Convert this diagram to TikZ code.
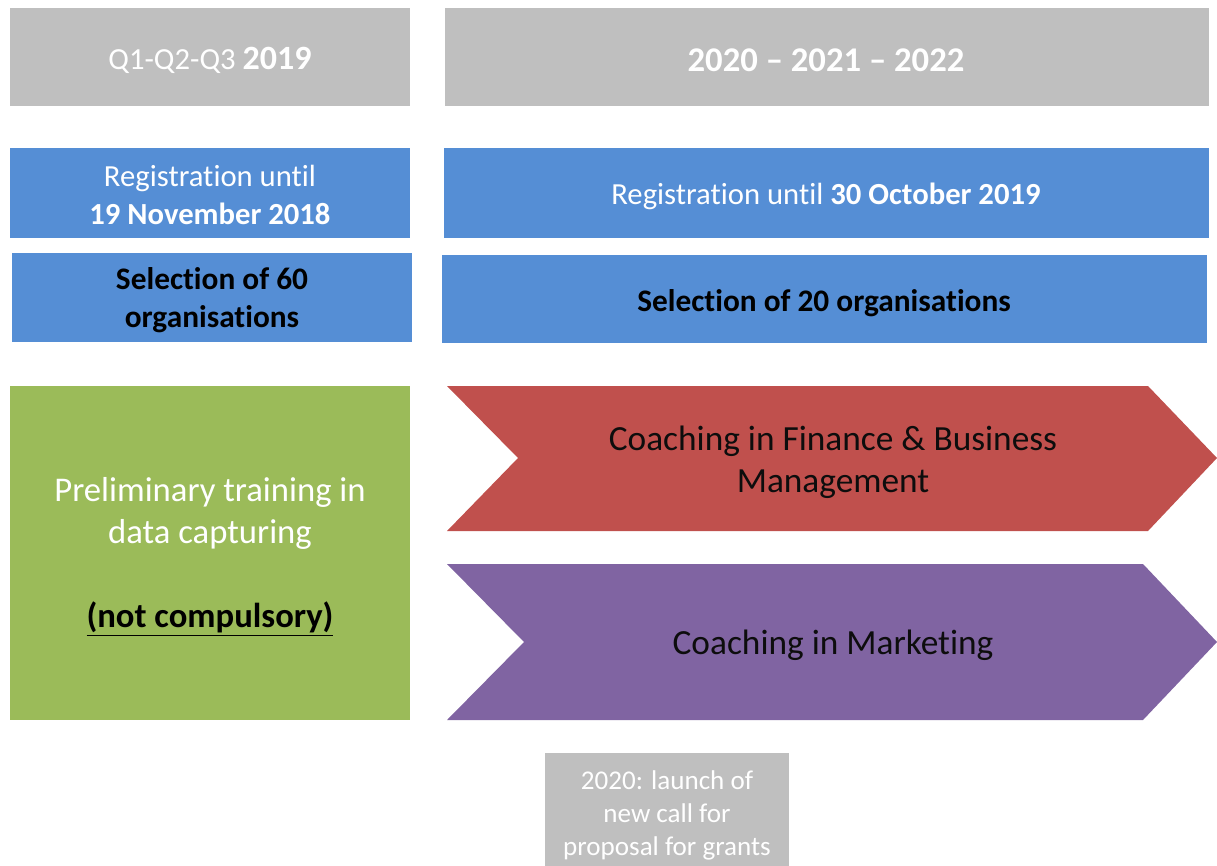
\documentclass[tikz,border=0pt]{standalone}
\usepackage{fontspec}
\setmainfont{Carlito}[Ligatures=NoCommon]
\usetikzlibrary{positioning}
\definecolor{hdgrey}{HTML}{BFBFBF}
\definecolor{regblue}{HTML}{558ED5}
\definecolor{trgreen}{HTML}{9BBB59}
\definecolor{finred}{HTML}{C0504D}
\definecolor{mktpurple}{HTML}{8064A2}

\begin{document}
\begin{tikzpicture}[x=0.75pt, y=-0.75pt, align=center, inner sep=0pt]
        \tikzstyle{head}=[text=white, font=\fontsize{23}{28}\selectfont]
        \tikzstyle{reg}=[text=white, font=\fontsize{23}{28}\selectfont]
        \tikzstyle{sel}=[text=black, font=\fontsize{23.5}{28}\selectfont\bfseries]
        \tikzstyle{coach}=[text=black!95, font=\fontsize{26.5}{31.5}\selectfont]
        \useasboundingbox (0,0) rectangle (1217,866);
        % header row
        \fill[hdgrey] (10,8) rectangle (410,106);
        \fill[hdgrey] (445,8) rectangle (1209,106);
        \node[head] (hdA) at (210,60) {Q1-Q2-Q3 {\bfseries\fontsize{25.5}{28}\selectfont 2019}};
        \node[head, font=\fontsize{26}{30}\selectfont\bfseries] (hdB) at (826,60) {2020 -- 2021 -- 2022};
        % registration and selection
        \fill[regblue] (10,148) rectangle (410,238);
        \fill[regblue] (444,148) rectangle (1209,238);
        \fill[regblue] (12,253) rectangle (412,342);
        \fill[regblue] (442,255) rectangle (1207,343);
        \node[reg] (regA) at (210,195) {Registration until\\ \textbf{19 November 2018}};
        \node[reg] (regB) at (826,196) {Registration until \textbf{30 October 2019}};
        \node[sel] (selA) at (212,300) {Selection of 60\\ organisations};
        \node[sel] (selB) at (824,303) {Selection of 20 organisations};
        % training and coaching
        \fill[trgreen] (10,386) rectangle (410,720);
        \node[text=white, font=\fontsize{26}{31.5}\selectfont] (train) at (210,557)
          {Preliminary training in\\ data capturing\\[31.5pt] \textcolor{black}{\bfseries\underline{(not compulsory)}}};
        \fill[finred] (447,386) -- (1148,386) -- (1217,458) -- (1148,531) -- (447,531) -- (518,458) -- cycle;
        \fill[mktpurple] (447,564) -- (1143,564) -- (1217,642) -- (1143,720) -- (447,720) -- (524,642) -- cycle;
        \node[coach] (fin) at (833,462) {Coaching in Finance \& Business\\ Management};
        \node[coach] (mkt) at (833,645) {Coaching in Marketing};
        % new call
        \fill[hdgrey] (545,753) rectangle (789,866);
        \node[text=white, font=\fontsize{20.3}{24.75}\selectfont] (call) at (667,815)
          {2020: launch of\\ new call for\\ proposal for grants};
\end{tikzpicture}
\end{document}
